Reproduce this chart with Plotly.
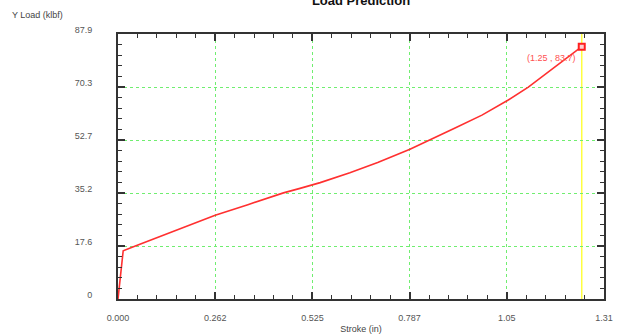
import plotly.graph_objects as go

# Data
stroke_in = [0.0, 0.014, 0.045, 0.158, 0.262, 0.35, 0.446, 0.4906, 0.545, 0.625,
             0.70, 0.787, 0.85, 0.91, 0.981, 1.052, 1.106, 1.15, 1.183, 1.22, 1.25]
load_klbf = [0.0, 16.0, 17.5, 22.9, 27.8, 31.3, 35.2, 36.7, 38.6, 41.9,
             45.3, 49.7, 53.2, 56.8, 61.0, 66.0, 70.3, 74.3, 77.6, 80.7, 83.7]

x_tick_vals = [0.0, 0.262, 0.524, 0.786, 1.048, 1.31]
x_tick_text = ["0.000", "0.262", "0.525", "0.787", "1.05", "1.31"]
y_tick_vals = [0.0, 17.58, 35.16, 52.74, 70.32, 87.9]
y_tick_text = ["0", "17.6", "35.2", "52.7", "70.3", "87.9"]

cursor_x = stroke_in[-1]
cursor_y = load_klbf[-1]

fig = go.Figure()
fig.add_trace(go.Scatter(x=stroke_in, y=load_klbf, mode="lines",
                         line=dict(color="#ff3030", width=1.6),
                         showlegend=False, hoverinfo="skip"))
fig.add_trace(go.Scatter(x=[cursor_x], y=[cursor_y], mode="markers",
                         marker=dict(symbol="square", size=6, color="#ffd0d0",
                                     line=dict(color="#ff2020", width=2)),
                         showlegend=False))

fig.add_shape(type="line", x0=cursor_x, x1=cursor_x, y0=0, y1=1, yref="paper",
              line=dict(color="#ffff40", width=1.5), layer="below")

fig.add_annotation(x=cursor_x, y=cursor_y, text=f"({cursor_x:.2f} , {cursor_y:.1f})",
                   showarrow=False, xanchor="right", yanchor="top", xshift=-4, yshift=-4,
                   font=dict(color="#ff5050", size=9, family="Liberation Sans"))

fig.add_annotation(xref="paper", yref="paper", x=-0.222, y=1.072, text="Y Load (klbf)",
                   showarrow=False, xanchor="left", yanchor="middle",
                   font=dict(color="#444444", size=9, family="Liberation Sans"))

axis_common = dict(
    showline=True, linecolor="#333333", linewidth=2, mirror="allticks",
    ticks="inside", ticklen=7, tickwidth=2, tickcolor="#333333",
    showgrid=True, gridcolor="#70ee70", griddash="dot", gridwidth=1,
    zeroline=False, automargin=False,
    tickfont=dict(color="#555555", size=9, family="Liberation Sans"),
    minor=dict(ticks="inside", ticklen=4, tickwidth=1, tickcolor="#333333",
               showgrid=False),
)

fig.update_xaxes(range=[0, 1.31], tickmode="array", tickvals=x_tick_vals, ticktext=x_tick_text,
                 title=dict(text="Stroke (in)", font=dict(color="#444444", size=9, family="Liberation Sans"),
                            standoff=4),
                 ticklabelstandoff=9, **axis_common)
fig.update_yaxes(range=[0, 87.9], tickmode="array", tickvals=y_tick_vals, ticktext=y_tick_text,
                 ticklabelstandoff=22, ticklabelshift=-4, **axis_common)
fig.update_xaxes(minor=dict(dtick=0.0524, tick0=0))
fig.update_yaxes(minor=dict(dtick=3.516, tick0=0))

fig.update_layout(
    width=617, height=336,
    margin=dict(l=118, r=13, t=34, b=37),
    paper_bgcolor="white", plot_bgcolor="white",
    title=dict(text="<b>Load Prediction</b>", x=0.5, xref="paper", y=1.0, yref="container",
               yanchor="middle", font=dict(size=13, color="#111111", family="Liberation Sans")),
)

fig.write_html("out.html", config={"displayModeBar": False},
               post_script="document.body.style.margin='0';document.body.style.overflow='hidden';")
